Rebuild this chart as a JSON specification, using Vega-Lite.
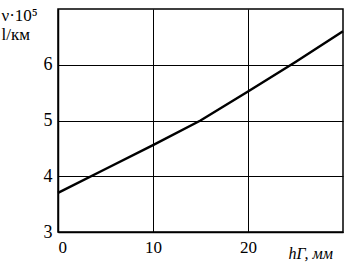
{
  "$schema": "https://vega.github.io/schema/vega-lite/v6.json",
  "width": 285,
  "height": 223,
  "autosize": {"type": "none"},
  "padding": {"left": 58, "top": 9, "right": 3, "bottom": 32},
  "background": "white",
  "config": {
    "view": {"stroke": "black", "strokeWidth": 1.5},
    "font": "Liberation Serif"
  },
  "data": {
    "values": [
      {"h": 0, "v": 3.7},
      {"h": 5, "v": 4.13},
      {"h": 10, "v": 4.56},
      {"h": 15, "v": 5.0},
      {"h": 20, "v": 5.52},
      {"h": 25, "v": 6.05},
      {"h": 30, "v": 6.6}
    ]
  },
  "mark": {"type": "line", "color": "black", "strokeWidth": 2.5},
  "encoding": {
    "x": {
      "field": "h",
      "type": "quantitative",
      "scale": {"domain": [0, 30], "nice": false},
      "axis": {
        "values": [0, 10, 20],
        "grid": true,
        "gridColor": "black",
        "gridOpacity": 1,
        "gridWidth": 1,
        "domainColor": "black",
        "domainWidth": 1.5,
        "ticks": false,
        "labelFont": "Liberation Serif",
        "labelFontSize": 17,
        "labelColor": "black",
        "labelPadding": 7,
        "labelDx": 1,
        "title": "hГ, мм",
        "titleFont": "Liberation Serif",
        "titleFontSize": 16,
        "titleFontWeight": "normal",
        "titleFontStyle": "italic",
        "titleColor": "black",
        "titleAlign": "left",
        "titleBaseline": "middle",
        "titleX": 230,
        "titleY": 21
      }
    },
    "y": {
      "field": "v",
      "type": "quantitative",
      "scale": {"domain": [3, 7], "nice": false},
      "axis": {
        "values": [3, 4, 5, 6],
        "grid": true,
        "gridColor": "black",
        "gridOpacity": 1,
        "gridWidth": 1,
        "domainColor": "black",
        "domainWidth": 1.5,
        "ticks": false,
        "labelFont": "Liberation Serif",
        "labelFontSize": 18,
        "labelColor": "black",
        "labelPadding": 6,
        "title": ["ν·10⁵", "l/км"],
        "titleFont": "Liberation Serif",
        "titleFontSize": 17,
        "titleFontWeight": "normal",
        "titleColor": "black",
        "titleAngle": 0,
        "titleAlign": "left",
        "titleBaseline": "top",
        "titleLineHeight": 19,
        "titleX": -57,
        "titleY": -2
      }
    }
  }
}
